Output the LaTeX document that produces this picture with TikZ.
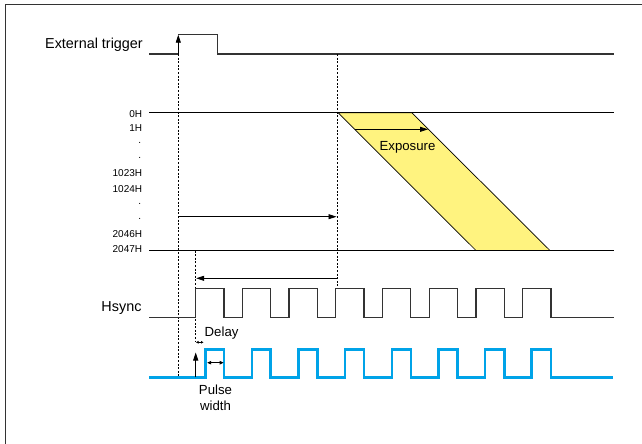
\documentclass[tikz,border=0pt]{standalone}
\usepackage{fontspec}
\setmainfont{Liberation Sans}
\usetikzlibrary{arrows.meta}
\definecolor{expyellow}{HTML}{FFF37F}
\definecolor{pulseblue}{HTML}{00A3E8}
\definecolor{sigline}{HTML}{333333}
\begin{document}
\begin{tikzpicture}[x=1pt,y=-1pt,
  sig/.style={draw=sigline,line width=1.2pt},
  level/.style={draw=black,line width=1pt},
  guide/.style={draw=black,line width=0.8pt,dash pattern=on 2pt off 1.6pt},
  arr/.style={draw=black,line width=0.8pt,-{Triangle[length=8pt,width=5pt]}},
  dbl/.style={draw=black,line width=0.8pt,{Triangle[length=4pt,width=3.5pt]}-{Triangle[length=4pt,width=3.5pt]}},
  tinydbl/.style={draw=black,line width=0.6pt,{Triangle[length=2.5pt,width=2.5pt]}-{Triangle[length=2.5pt,width=2.5pt]}},
  big/.style={font=\fontsize{14.4}{16.4}\selectfont,inner sep=0pt},
  mid/.style={font=\fontsize{13.2}{16.4}\selectfont,inner sep=0pt},
  tick/.style={font=\fontsize{10}{11}\selectfont,inner sep=0pt,anchor=base east},
]
\useasboundingbox (0,0) rectangle (642,444);
\clip (0,0) rectangle (642,444);
\fill[white] (0,0) rectangle (642,444);
\draw[line width=1pt,draw=black!80] (5,5) rectangle (660,460);

% exposure band
\coordinate (e1) at (338,112.7);
\coordinate (e2) at (411.7,112.7);
\coordinate (e3) at (550,250.5);
\coordinate (e4) at (476,250.5);
\filldraw[fill=expyellow,draw=black,line width=0.7pt] (e1) -- (e2) -- (e3) -- (e4) -- cycle;

% row lines
\coordinate (l0a) at (149.4,112.7);
\coordinate (l0b) at (614,112.7);
\coordinate (l1a) at (149.4,250.5);
\coordinate (l1b) at (614,250.5);
\draw[level] (l0a) -- (l0b);
\draw[level] (l1a) -- (l1b);

% external trigger
\coordinate (t0) at (149.4,54);
\coordinate (t1) at (178.3,54);
\coordinate (t2) at (178.3,34.7);
\coordinate (t3) at (217.8,34.7);
\coordinate (t4) at (217.8,54);
\coordinate (t5) at (614,54);
\draw[sig] (t0) -- (t1);
\draw[sig] (t2) -- (t3) -- (t4) -- (t5);
\draw[arr] (t1) -- (t2);

% dashed guides
\coordinate (g1b) at (178.3,377.3);
\coordinate (g2a) at (337.3,54);
\coordinate (g2b) at (337.3,288.3);
\coordinate (g3a) at (195.7,250.5);
\coordinate (g3b) at (195.7,341);
\draw[guide] (t1) -- (g1b);
\draw[guide] (g2a) -- (g2b);
\draw[guide] (g3a) -- (g3b);

% Hsync
\draw[sig,line width=1.3pt] (149.4,317.7)
  \foreach \k in {0,...,7}{ -- ({195.7+46.7*\k},317.7) -- ({195.7+46.7*\k},288.3) -- ({224+46.7*\k},288.3) -- ({224+46.7*\k},317.7)}
  -- (614,317.7);

% blue output
\draw[draw=pulseblue,line width=2.6pt] (149.4,377.3)
  \foreach \k in {0,...,7}{ -- ({205.2+46.65*\k},377.3) -- ({205.2+46.65*\k},349.2) -- ({224+46.7*\k},349.2) -- ({224+46.7*\k},377.3)}
  -- (613,377.3);

% arrows
\coordinate (a1s) at (178.3,216.7);
\coordinate (a1e) at (336.5,216.7);
\draw[arr] (a1s) -- (a1e);
\coordinate (a2s) at (337.3,278.3);
\coordinate (a2e) at (196.2,278.3);
\draw[arr] (a2s) -- (a2e);
\coordinate (xs) at (354.6,129.3);
\coordinate (xe) at (428,129.3);
\draw[arr] (xs) -- (xe);
\coordinate (us) at (195.7,377.3);
\coordinate (ue) at (195.7,352.5);
\draw[arr,line width=1pt] (us) -- (ue);
\coordinate (ds) at (196,342.3);
\coordinate (de) at (203.5,342.3);
\draw[tinydbl] (ds) -- (de);
\coordinate (ps) at (207.2,362.7);
\coordinate (pe) at (223.6,362.7);
\draw[dbl] (ps) -- (pe);

% labels
\node[big,anchor=east] (ext) at (143,45) {External trigger};
\node[big,anchor=east] (hs) at (141.7,308.5) {Hsync};
\node[mid] (expo) at (407.5,147.7) {Exposure};
\node[mid,anchor=west] (dl) at (204.5,332.7) {Delay};
\node[mid,align=center] (pw) at (215.5,397.5) {Pulse\\width};

\node[tick] (h0) at (142.3,117.6) {0H};
\node[tick] (h1) at (142.3,131.9) {1H};
\node[tick] (d1) at (141.3,143.4) {.};
\node[tick] (d2) at (141.3,158.4) {.};
\node[tick] (h1023) at (142.3,176.3) {1023H};
\node[tick] (h1024) at (142.3,192.9) {1024H};
\node[tick] (d3) at (141.3,204) {.};
\node[tick] (d4) at (141.3,219) {.};
\node[tick] (h2046) at (142.3,237.9) {2046H};
\node[tick] (h2047) at (142.3,252.6) {2047H};
\end{tikzpicture}
\end{document}
